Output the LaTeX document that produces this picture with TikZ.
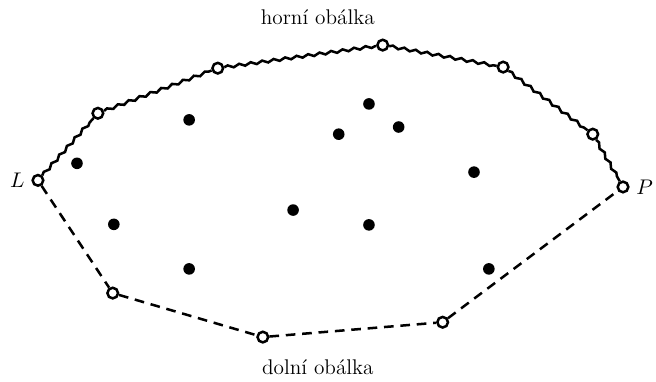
\documentclass[tikz,border=0pt]{standalone}
\usetikzlibrary{decorations.pathmorphing}
\tikzset{
  hull/.style={circle, draw, fill=white, line width=1.3pt, inner sep=0pt, minimum size=5.5pt},
  pt/.style={circle, fill, inner sep=0pt, minimum size=6pt},
  upper/.style={line width=1.3pt, decorate, decoration={snake, amplitude=0.7pt, segment length=6pt}},
  lower/.style={line width=1.3pt, dash pattern=on 5pt off 3.5pt}
}
\begin{document}
\begin{tikzpicture}[font=\fontsize{11}{13}\selectfont]
    \useasboundingbox (0,0) rectangle (11.93,6.93);
    % Define node positions
    \node[hull] (L) at (0.69, 3.65) {}; \node[hull] (P) at (11.33, 3.53) {};
    \node[hull] (h1) at (1.78, 4.87) {}; \node[hull] (h2) at (3.96, 5.69) {};
    \node[hull] (h3) at (6.96, 6.11) {}; \node[hull] (h4) at (9.15, 5.71) {};
    \node[hull] (h5) at (10.78, 4.49) {};
    \node[hull] (d1) at (2.05, 1.60) {}; \node[hull] (d2) at (4.78, 0.80) {};
    \node[hull] (d3) at (8.05, 1.07) {};

    % Inner points
    \node[pt] (p1) at (1.40, 3.96) {}; \node[pt] (p2) at (3.44, 4.75) {};
    \node[pt] (p3) at (6.71, 5.04) {}; \node[pt] (p4) at (6.16, 4.49) {};
    \node[pt] (p5) at (7.25, 4.62) {}; \node[pt] (p6) at (8.62, 3.80) {};
    \node[pt] (p7) at (2.07, 2.85) {}; \node[pt] (p8) at (5.33, 3.11) {};
    \node[pt] (p9) at (6.71, 2.84) {}; \node[pt] (p10) at (3.44, 2.04) {};
    \node[pt] (p11) at (8.89, 2.04) {};

    % Labels
    \node[left=0pt] (lL) at (L.west) {$L$};
    \node[right=0pt] (lP) at (P.east) {$P$};
    \node (top) at (5.78, 6.62) {horní obálka};
    \node (bot) at (5.78, 0.25) {dolní obálka};

    % Draw envelopes
    \draw[upper] (L) -- (h1); \draw[upper] (h1) -- (h2);
    \draw[upper] (h2) -- (h3); \draw[upper] (h3) -- (h4);
    \draw[upper] (h4) -- (h5); \draw[upper] (h5) -- (P);
    \draw[lower] (L) -- (d1) -- (d2) -- (d3) -- (P);
\end{tikzpicture}
\end{document}
